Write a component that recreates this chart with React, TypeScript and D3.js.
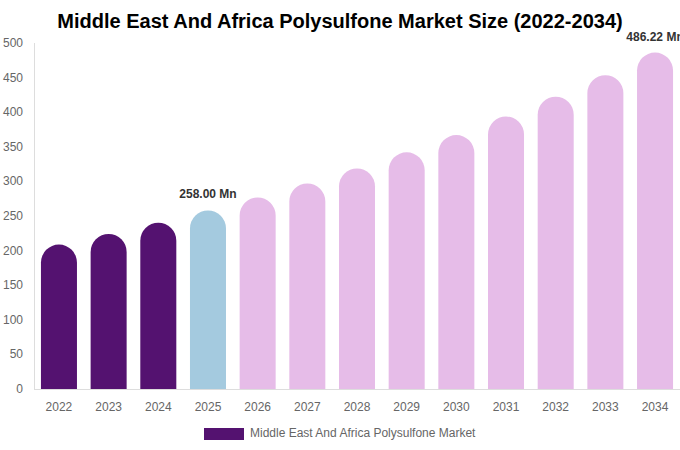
import React, { useEffect, useRef } from 'react';
import * as d3 from 'd3';

const years = ['2022', '2023', '2024', '2025', '2026', '2027', '2028', '2029', '2030', '2031', '2032', '2033', '2034'];
const values = [208.8, 224.1, 240.4, 258.0, 276.8, 297.0, 318.7, 342.0, 367.0, 393.8, 422.5, 453.4, 486.22];
const yTicks = [0, 50, 100, 150, 200, 250, 300, 350, 400, 450, 500];
const labelled = ['2025', '2034'];
const seriesName = 'Middle East And Africa Polysulfone Market';

const colorFor = (year: string) => {
  const y = +year;
  if (y < 2025) return '#541270';
  if (y === 2025) return '#a4cadf';
  return '#e6bce8';
};

export default function App() {
  const svgRef = useRef<SVGSVGElement | null>(null);

  useEffect(() => {
    const width = 680;
    const height = 450;
    const margin = { top: 43, right: 0, bottom: 61, left: 34 };

    const svg = d3.select(svgRef.current)
      .attr('width', width)
      .attr('height', height)
      .style('font-family', '"Liberation Sans", Arial, sans-serif');

    svg.selectAll('*').remove();

    const x = d3.scaleBand()
      .domain(years)
      .range([margin.left, width - margin.right])
      .paddingInner(0.275)
      .paddingOuter(0.14);

    const y = d3.scaleLinear()
      .domain([0, 500])
      .range([height - margin.bottom, margin.top]);

    // title
    svg.append('text')
      .attr('x', 340)
      .attr('y', 28)
      .attr('text-anchor', 'middle')
      .style('font-size', '20px')
      .style('font-weight', 'bold')
      .style('fill', '#000')
      .text('Middle East And Africa Polysulfone Market Size (2022-2034)');

    // axes lines
    svg.append('line')
      .attr('x1', margin.left + 0.5).attr('x2', margin.left + 0.5)
      .attr('y1', margin.top).attr('y2', y(0))
      .attr('stroke', '#ddd');
    svg.append('line')
      .attr('x1', margin.left).attr('x2', width)
      .attr('y1', y(0) + 0.5).attr('y2', y(0) + 0.5)
      .attr('stroke', '#ddd');

    svg.append('g')
      .selectAll('text')
      .data(yTicks)
      .join('text')
      .attr('x', 23)
      .attr('y', (d) => y(d) + 4)
      .attr('text-anchor', 'end')
      .style('font-size', '12px')
      .style('fill', '#666')
      .text((d) => d);

    svg.append('g')
      .selectAll('text')
      .data(years)
      .join('text')
      .attr('x', (d) => x(d)! + x.bandwidth() / 2)
      .attr('y', 411)
      .attr('text-anchor', 'middle')
      .style('font-size', '12px')
      .style('fill', '#666')
      .text((d) => d);

    // bars with rounded tops
    const bw = x.bandwidth();
    const r = bw / 2;
    svg.append('g')
      .selectAll('path')
      .data(years.map((yr, i) => ({ yr, v: values[i] })))
      .join('path')
      .attr('fill', (d) => colorFor(d.yr))
      .attr('d', (d) => {
        const x0 = x(d.yr)!;
        const top = y(d.v);
        const base = y(0);
        return `M${x0},${base} L${x0},${top + r} A${r},${r} 0 0 1 ${x0 + bw},${top + r} L${x0 + bw},${base} Z`;
      });

    svg.append('g')
      .selectAll('text')
      .data(years.map((yr, i) => ({ yr, v: values[i] })).filter((d) => labelled.includes(d.yr)))
      .join('text')
      .attr('x', (d) => x(d.yr)! + bw / 2)
      .attr('y', (d) => y(d.v) - 12)
      .attr('text-anchor', 'middle')
      .style('font-size', '12px')
      .style('font-weight', 'bold')
      .style('fill', '#333')
      .text((d) => `${d.v.toFixed(2)} Mn`);

    // legend
    svg.append('rect')
      .attr('x', 204)
      .attr('y', 428)
      .attr('width', 40)
      .attr('height', 12)
      .attr('fill', '#541270');
    svg.append('text')
      .attr('x', 250)
      .attr('y', 437)
      .style('font-size', '12px')
      .style('fill', '#666')
      .text(seriesName);
  }, []);

  return <svg ref={svgRef} style={{ position: 'absolute', left: 0, top: 0 }}></svg>;
}
